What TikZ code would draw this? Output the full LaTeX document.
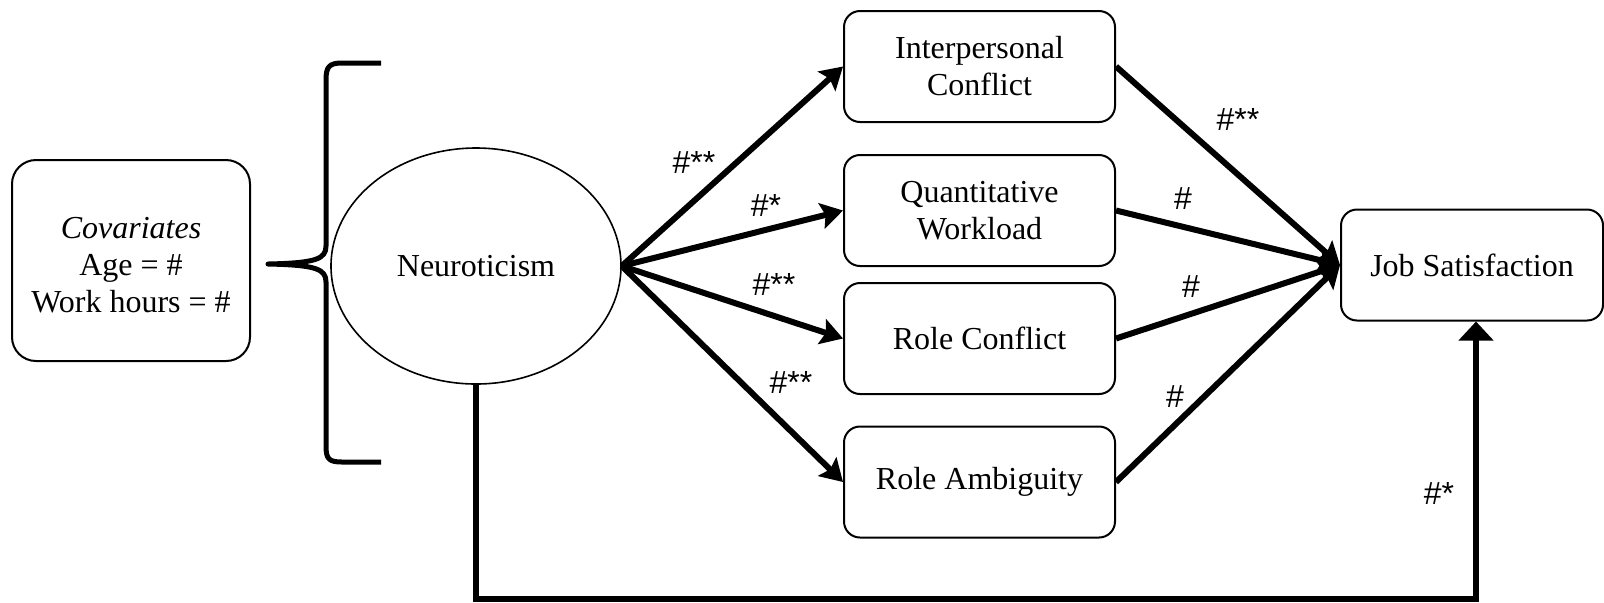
\documentclass[tikz,border=0pt]{standalone}
\usepackage{fontspec}
\setmainfont{Liberation Serif}
\newfontfamily\labfont{Liberation Sans}
\usetikzlibrary{arrows.meta,positioning,shapes.geometric}

\tikzset{
  box/.style={draw,line width=1pt,rounded corners=8pt,align=center,
    minimum width=135.5pt,minimum height=55.5pt,
    font=\fontsize{16}{18.5}\selectfont},
  covbox/.style={box,rounded corners=12pt,minimum width=119pt,minimum height=100.5pt},
  path/.style={line width=3pt,-{Stealth[length=11pt,width=13pt,inset=2pt]}},
  lab/.style={font=\labfont\fontsize{16}{16}\selectfont,inner sep=0pt}
}

\begin{document}
\begin{tikzpicture}[x=0.5pt,y=-0.5pt,>=Stealth]
\useasboundingbox (0,0) rectangle (1604,602);

%covariates and bracket
\node[covbox] (cov) at (131,260.5) {\rule{0pt}{15pt}\textit{Covariates}\\Age = \#\\Work hours = \#};
\draw[line width=2.5pt,line join=round] (381,63) -- (342,63) .. controls (329,63) and (326,67) .. (326,80)
  -- (326,246) .. controls (326,259) and (316,263) .. (268,264)
  .. controls (316,265) and (326,269) .. (326,282)
  -- (326,446) .. controls (326,459) and (329,462) .. (342,462) -- (381,462);

%predictor
\node[ellipse,draw,line width=0.8pt,minimum width=145pt,minimum height=118pt,
  font=\fontsize{16}{18.5}\selectfont] (neuro) at (476,266) {Neuroticism};

%stressors
\node[box] (ic) at (979.5,66.5) {Interpersonal\\Conflict};
\node[box] (qw) at (979.5,210.5) {Quantitative\\Workload};
\node[box] (rc) at (979.5,338.5) {Role Conflict};
\node[box] (ra) at (979.5,482) {Role Ambiguity};

%outcome
\node[box,minimum width=131pt] (js) at (1472,265) {Job Satisfaction};

%paths a
\draw[path] (neuro.east) -- (ic.west);
\draw[path] (neuro.east) -- (qw.west);
\draw[path] (neuro.east) -- (rc.west);
\draw[path] (neuro.east) -- (ra.west);

%paths b
\draw[path] (ic.east) -- (js.west);
\draw[path] (qw.east) -- (js.west);
\draw[path] (rc.east) -- (js.west);
\draw[path] (ra.east) -- (js.west);

%direct path
\draw[line width=3pt,-{Triangle[length=9.5pt,width=17pt]}] (neuro.south) -- ++(0,214) -| ([xshift=2pt]js.south);

%coefficients
\node[lab] (a1) at (694,162) {\#**};
\node[lab] (a2) at (766,205) {\#*};
\node[lab] (a3) at (774,284) {\#**};
\node[lab] (a4) at (791,382) {\#**};
\node[lab] (b1) at (1238,119) {\#**};
\node[lab] (b2) at (1183,199) {\#};
\node[lab] (b3) at (1191,287) {\#};
\node[lab] (b4) at (1175,397) {\#};
\node[lab] (c1) at (1439,493) {\#*};

\end{tikzpicture}
\end{document}
